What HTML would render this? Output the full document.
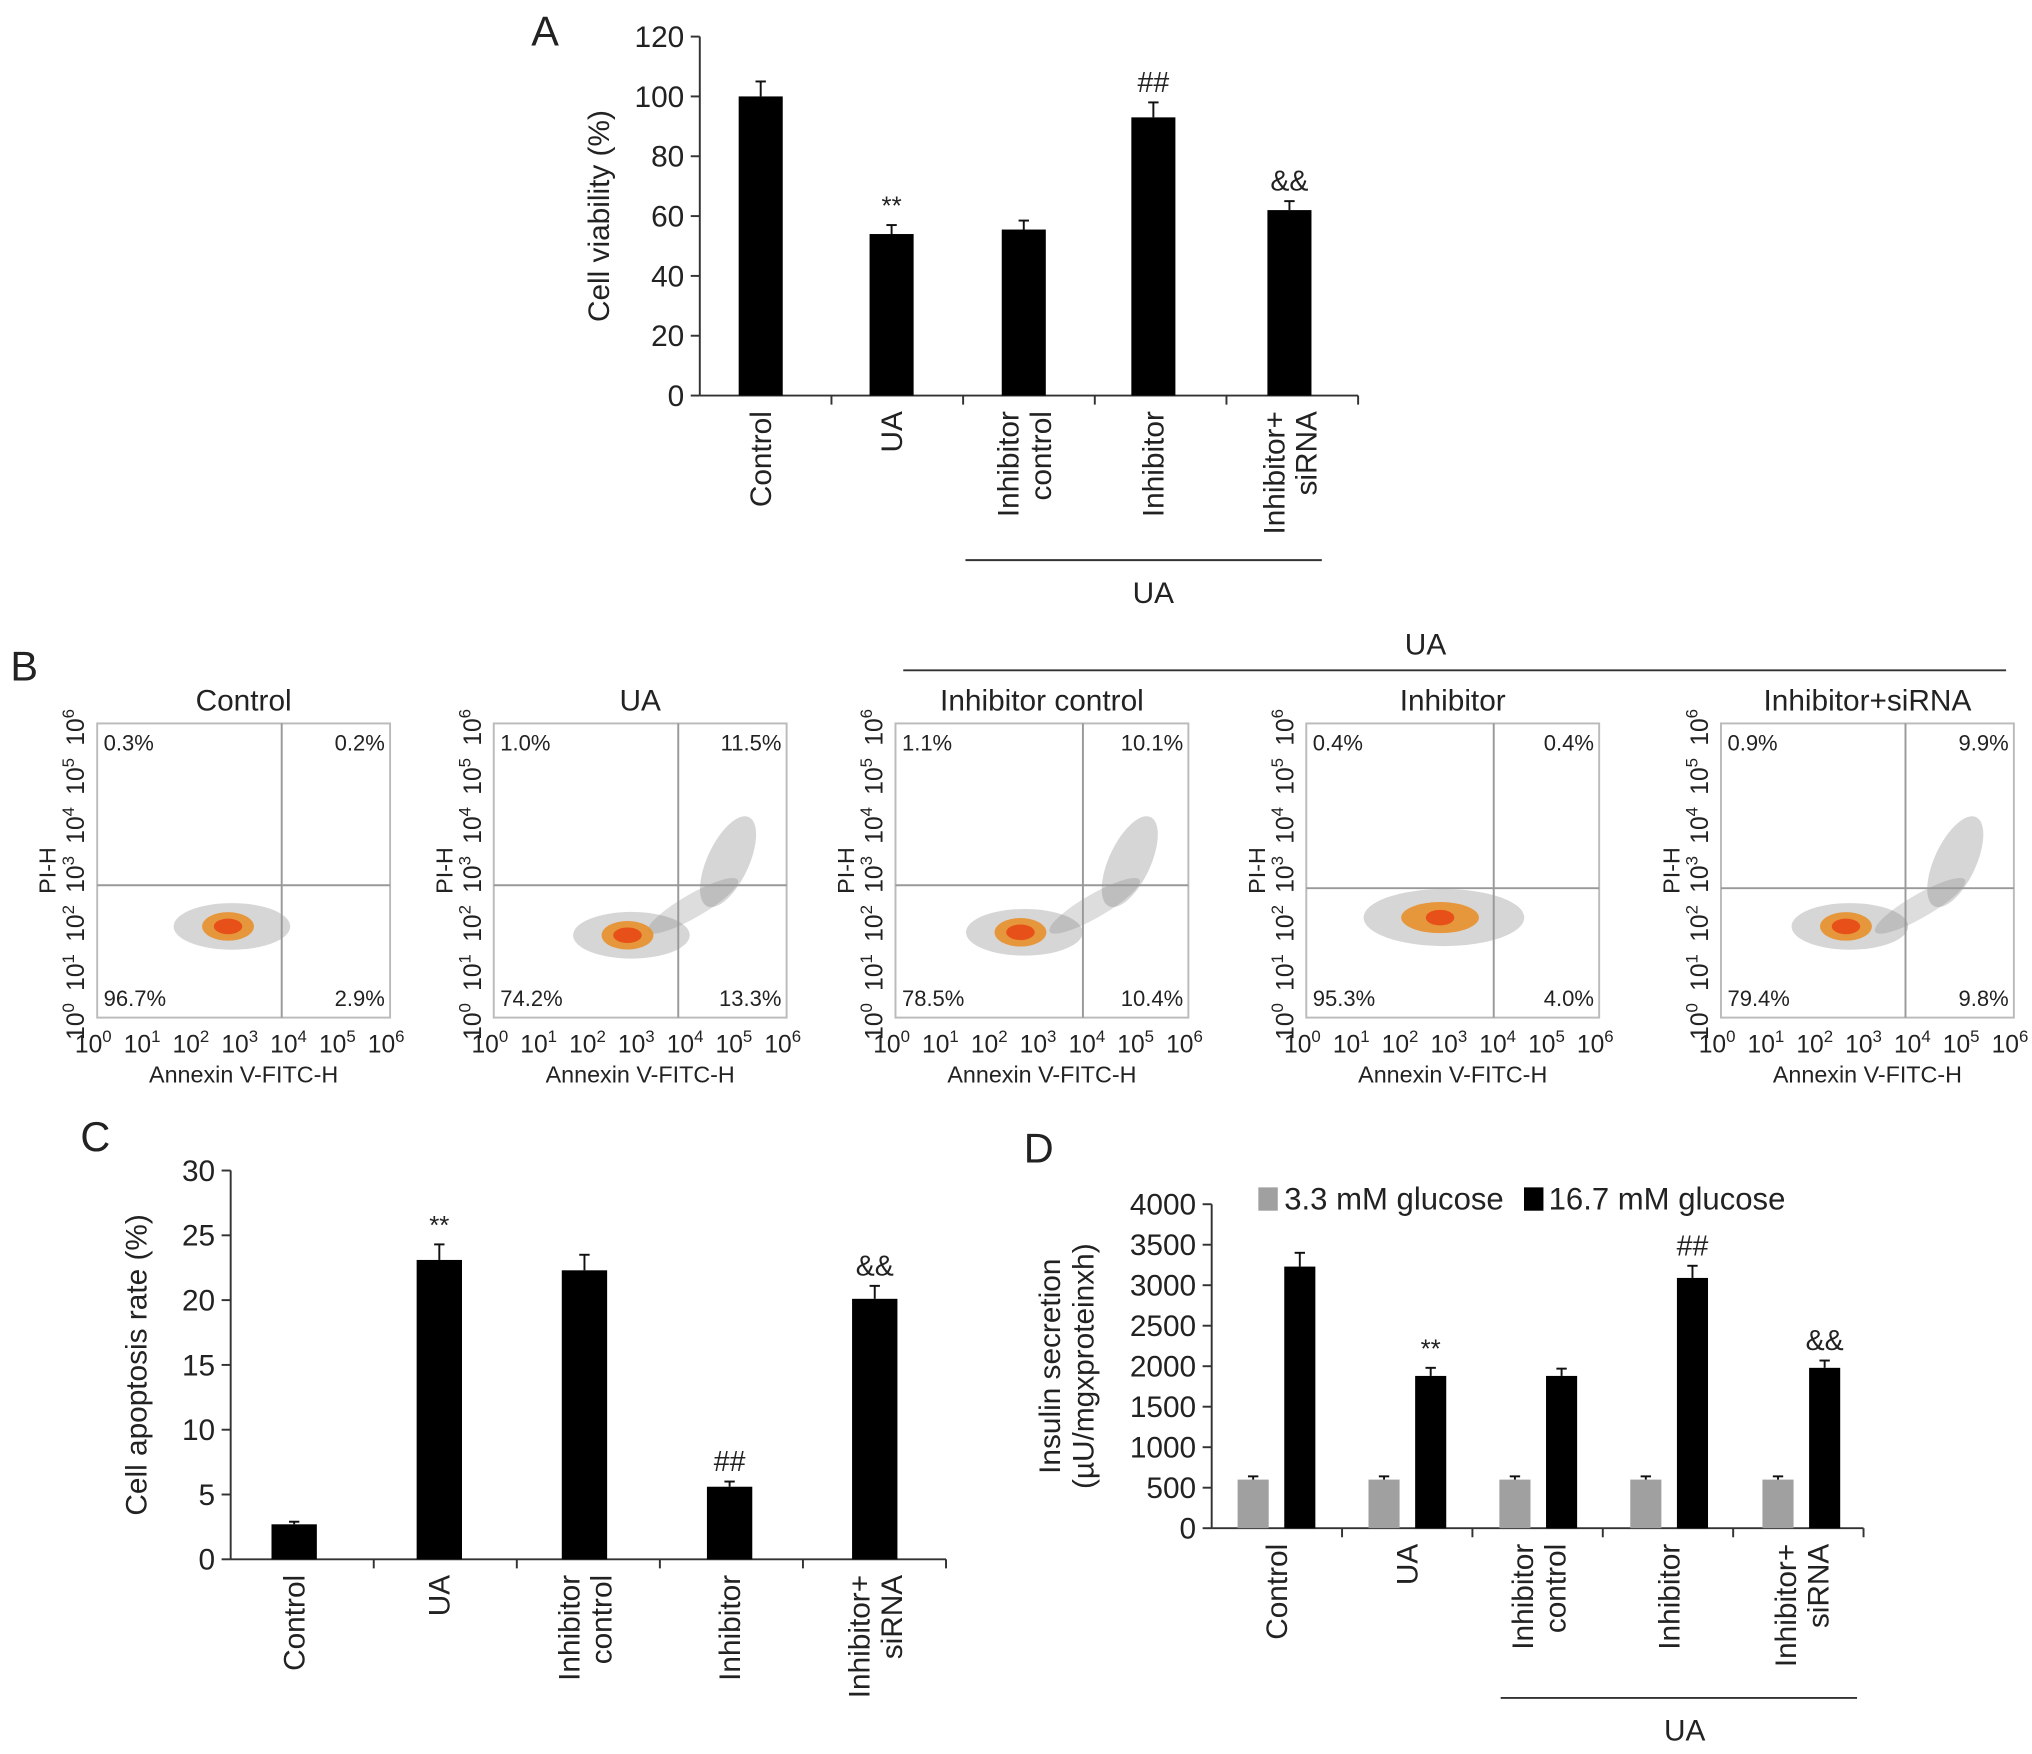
<!DOCTYPE html>
<html><head><meta charset="utf-8"><style>
html,body{margin:0;padding:0;background:#fff}
svg{display:block}
text{font-family:"Liberation Sans",sans-serif;fill:#222}
</style></head><body>
<svg id="fig" width="2032" height="1754" viewBox="0 0 1568 1353">
<g id="root"></g>
</svg>
<script>
// Panel A data
const aCats = ["Control","UA","Inhibitor\ncontrol","Inhibitor","Inhibitor+\nsiRNA"];
const aVals = [100,54,55.5,93,62];
const aErrs = [5,3,3,5,3];
const aMarks = ["","**","","##","&&"];
const aTicks = [0,20,40,60,80,100,120];
// Panel C data
const cVals = [2.7,23.1,22.3,5.6,20.1];
const cErrs = [0.2,1.2,1.2,0.4,1.0];
const cMarks = ["","**","","##","&&"];
const cTicks = [0,5,10,15,20,25,30];
// Panel D data
const dLow = [600,600,600,600,600];
const dLowErr = [40,40,40,40,40];
const dHigh = [3230,1880,1880,3090,1980];
const dHighErr = [170,100,90,150,90];
const dMarks = ["","**","","##","&&"];
const dTicks = [0,500,1000,1500,2000,2500,3000,3500,4000];
// Panel B data (quadrant percentages: UL, UR, LL, LR)
const bTitles = ["Control","UA","Inhibitor control","Inhibitor","Inhibitor+siRNA"];
const bUL = ["0.3%","1.0%","1.1%","0.4%","0.9%"];
const bUR = ["0.2%","11.5%","10.1%","0.4%","9.9%"];
const bLL = ["96.7%","74.2%","78.5%","95.3%","79.4%"];
const bLR = ["2.9%","13.3%","10.4%","4.0%","9.8%"];

const NS="http://www.w3.org/2000/svg";
const root=document.getElementById('root');
function el(tag,attrs,parent,txt){const e=document.createElementNS(NS,tag);for(const k in attrs)e.setAttribute(k,attrs[k]);if(txt!==undefined)e.textContent=txt;(parent||root).appendChild(e);return e;}
function line(x1,y1,x2,y2,p,c,w){return el('line',{x1,y1,x2,y2,stroke:c||'#333','stroke-width':w||1.5},p);}

function barChart(o){
  const g=el('g',{});
  
  
  const y=v=>o.y0-(v-o.min)/(o.max-o.min)*(o.y0-o.y1);
  line(o.x0,o.y0,o.x0,o.y1,g);
  line(o.x0,o.y0,o.xEnd,o.y0,g);
  o.ticks.forEach(t=>{
    line(o.x0-7,y(t),o.x0,y(t),g);
    const tx=el('text',{x:o.x0-12,y:y(t)+8,'text-anchor':'end','font-size':23},g,String(t));
    
    
  });
  for(let i=1;i<=o.n;i++){const xs=o.x0+(i)*(o.xEnd-o.x0)/o.n; line(xs,o.y0,xs,o.y0+7,g);}
  o.series.forEach(s=>{
    s.vals.forEach((v,i)=>{
      const cx=o.centers[i]+s.off;
      const r=el('rect',{x:cx-o.bw/2,y:y(v),width:o.bw,height:o.y0-y(v),fill:s.color},g);
      
      
      const e=s.errs[i];
      line(cx,y(v),cx,y(v+e),g,'#111',1.5);
      line(cx-4,y(v+e),cx+4,y(v+e),g,'#111',1.5);
      if(s.marks&&s.marks[i]){
        const m=el('text',{x:cx,y:y(v+e)-8,'text-anchor':'middle','font-size':s.marks[i]=='**'?20:22},g,s.marks[i]);
        
        
      }
    });
  });
  const yt=el('text',{transform:`translate(${o.ytx},${(o.y0+o.y1)/2}) rotate(-90)`,'text-anchor':'middle','font-size':23},g);
  
  
  o.ytitle.forEach((t,k)=>el('tspan',{x:0,dy:k?26:0},yt,t));
  aCats.forEach((c,i)=>{
    const parts=c.split('\n');
    const lx=o.centers[i]+o.labOff;
    const t=el('text',{transform:`translate(${lx+(parts.length>1?-4:8)},${o.y0+12}) rotate(-90)`,'text-anchor':'end','font-size':23},g);
    
    
    parts.forEach((p,k)=>el('tspan',{x:0,dy:k?25:0},t,p));
  });
  return g;
}
function letter(x,y,s){const t=el('text',{x,y,'font-size':32},root,s);}

letter(410,35,'A');
barChart({name:'panel-a-chart',x0:540,xEnd:1048,y0:305,y1:28,min:0,max:120,ticks:aTicks,n:5,
  centers:[587,688,790,890,995],bw:34,labOff:0,ytx:470,ytitle:['Cell viability (%)'],
  series:[{key:'viability',vals:aVals,errs:aErrs,marks:aMarks,color:'#000',off:0}]});
line(745,432,1020,432);
el('text',{x:890,y:465,'text-anchor':'middle','font-size':23},root,'UA');

letter(62,888,'C');
barChart({name:'panel-c-chart',x0:178,xEnd:730,y0:1203,y1:903,min:0,max:30,ticks:cTicks,n:5,
  centers:[227,339,451,563,675],bw:35,labOff:0,ytx:113,ytitle:['Cell apoptosis rate (%)'],
  series:[{key:'apoptosis',vals:cVals,errs:cErrs,marks:cMarks,color:'#000',off:0}]});

letter(790,897,'D');
barChart({name:'panel-d-chart',x0:935,xEnd:1438,y0:1179,y1:929,min:0,max:4000,ticks:dTicks,n:5,
  centers:[985,1086,1187,1288,1390],bw:24,labOff:0,ytx:818,ytitle:['Insulin secretion','(µU/mgxproteinxh)'],
  series:[{key:'low-glucose',vals:dLow,errs:dLowErr,color:'#a0a0a0',off:-18},
          {key:'high-glucose',vals:dHigh,errs:dHighErr,marks:dMarks,color:'#000',off:18}]});
line(1158,1310,1433,1310);
el('text',{x:1300,y:1343,'text-anchor':'middle','font-size':23},root,'UA');
const lg=el('g',{});
el('rect',{x:971,y:916,width:15,height:18,fill:'#a0a0a0'},lg);
el('text',{x:991,y:933,'font-size':24},lg,'3.3 mM glucose');
el('rect',{x:1176,y:916,width:15,height:18,fill:'#000'},lg);
el('text',{x:1195,y:933,'font-size':24},lg,'16.7 mM glucose');

// Panel B
letter(8,525,'B');
line(697,517,1548,517);
el('text',{x:1100,y:505,'text-anchor':'middle','font-size':23},root,'UA');
const bx=[75,381,691,1008,1328];
const bw=226, by=558, bh=227;
const qx=[0.63,0.63,0.64,0.64,0.63], qy=[0.55,0.55,0.55,0.56,0.56];
const cloud=[[0.46,0.69,0.5],[0.47,0.72,0.8],[0.44,0.71,0.8],[0.47,0.66,0.6],[0.44,0.69,0.8]];
bTitles.forEach((t,i)=>{
  const g=el('g',{});
  
  
  const x=bx[i];
  el('text',{x:x+bw/2,y:548,'text-anchor':'middle','font-size':23},g,t);
  el('rect',{x,y:by,width:bw,height:bh,fill:'none',stroke:'#bbb','stroke-width':1.5},g);
  const c=cloud[i];
  const cx=x+bw*c[0], cy=by+bh*c[1];
  el('ellipse',{cx,cy,rx:i==3?62:45,ry:i==3?22:18,fill:'#777',opacity:0.3},g);
  if(i==1||i==2||i==4){
    el('ellipse',{cx:x+bw*0.68,cy:by+bh*0.62,rx:40,ry:9,fill:'#777',opacity:0.25,transform:`rotate(-30 ${x+bw*0.68} ${by+bh*0.62})`},g);
    el('ellipse',{cx:x+bw*0.8,cy:by+bh*0.47,rx:16,ry:38,fill:'#777',opacity:0.3,transform:`rotate(25 ${x+bw*0.8} ${by+bh*0.47})`},g);
  }
  el('ellipse',{cx:cx-3,cy,rx:i==3?30:20,ry:i==3?12:11,fill:'#e8902a',opacity:0.9},g);
  el('ellipse',{cx:cx-3,cy,rx:11,ry:6,fill:'#e8501a'},g);
  line(x+bw*qx[i],by,x+bw*qx[i],by+bh,g,'#999',1.5);
  line(x,by+bh*qy[i],x+bw,by+bh*qy[i],g,'#999',1.5);
  el('text',{x:x+5,y:by+21,'font-size':17},g,bUL[i]);
  el('text',{x:x+bw-4,y:by+21,'font-size':17,'text-anchor':'end'},g,bUR[i]);
  el('text',{x:x+5,y:by+bh-9,'font-size':17},g,bLL[i]);
  el('text',{x:x+bw-4,y:by+bh-9,'font-size':17,'text-anchor':'end'},g,bLR[i]);
  for(let k=0;k<=6;k++){
    const tx=x+k*bw/6, ty=by+bh-k*bh/6;
    const xt=el('text',{x:tx-3,y:by+bh+27,'text-anchor':'middle','font-size':19},g,'10');
    el('tspan',{dy:-8,'font-size':13},xt,String(k));
    const yt=el('text',{transform:`translate(${x-10},${ty+3}) rotate(-90)`,'text-anchor':'middle','font-size':19},g,'10');
    el('tspan',{dy:-8,'font-size':13},yt,String(k));
  }
  el('text',{x:x+bw/2,y:by+bh+50,'text-anchor':'middle','font-size':18},g,'Annexin V-FITC-H');
  el('text',{transform:`translate(${x-32},${by+bh*0.5}) rotate(-90)`,'text-anchor':'middle','font-size':18},g,'PI-H');
});
</script>
</body></html>
